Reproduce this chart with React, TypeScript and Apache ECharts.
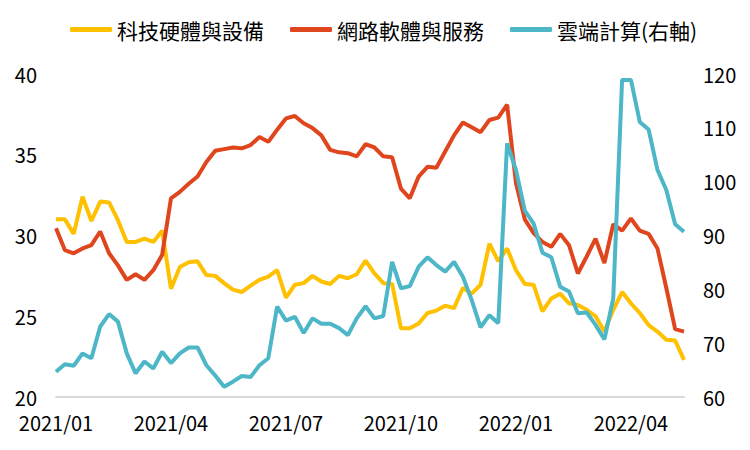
import React, { useEffect, useRef } from "react";
import * as echarts from "echarts";

const weeks: string[] = [
  "2021/01/08", "2021/01/15", "2021/01/22", "2021/01/29", "2021/02/05", "2021/02/12", "2021/02/19", "2021/02/26",
  "2021/03/05", "2021/03/12", "2021/03/19", "2021/03/26", "2021/04/02", "2021/04/09", "2021/04/16", "2021/04/23",
  "2021/04/30", "2021/05/07", "2021/05/14", "2021/05/21", "2021/05/28", "2021/06/04", "2021/06/11", "2021/06/18",
  "2021/06/25", "2021/07/02", "2021/07/09", "2021/07/16", "2021/07/23", "2021/07/30", "2021/08/06", "2021/08/13",
  "2021/08/20", "2021/08/27", "2021/09/03", "2021/09/10", "2021/09/17", "2021/09/24", "2021/10/01", "2021/10/08",
  "2021/10/15", "2021/10/22", "2021/10/29", "2021/11/05", "2021/11/12", "2021/11/19", "2021/11/26", "2021/12/03",
  "2021/12/10", "2021/12/17", "2021/12/24", "2021/12/31", "2022/01/07", "2022/01/14", "2022/01/21", "2022/01/28",
  "2022/02/04", "2022/02/11", "2022/02/18", "2022/02/25", "2022/03/04", "2022/03/11", "2022/03/18", "2022/03/25",
  "2022/04/01", "2022/04/08", "2022/04/15", "2022/04/22", "2022/04/29", "2022/05/06", "2022/05/13", "2022/05/20",
];

const seriesNames: string[] = ["科技硬體與設備", "網路軟體與服務", "雲端計算(右軸)"];

const hardware: number[] = [
  31.0, 31.0, 30.1, 32.4, 30.9, 32.1, 32.05, 30.95, 29.6, 29.6, 29.8, 29.6, 30.3, 26.7, 28.05, 28.35,
  28.4, 27.55, 27.5, 27.05, 26.65, 26.5, 26.9, 27.25, 27.45, 27.85, 26.15, 26.95, 27.05, 27.5, 27.15, 27.0,
  27.5, 27.35, 27.6, 28.45, 27.65, 27.05, 27.0, 24.25, 24.25, 24.55, 25.2, 25.35, 25.65, 25.5, 26.75, 26.4,
  26.95, 29.5, 28.4, 29.2, 27.85, 27.0, 26.95, 25.3, 26.1, 26.4, 25.8, 25.7, 25.4, 25.0, 24.05, 25.4,
  26.5, 25.8, 25.2, 24.45, 24.05, 23.55, 23.5, 22.3,
];

const software: number[] = [
  30.45, 29.1, 28.9, 29.2, 29.4, 30.25, 28.9, 28.15, 27.25, 27.6, 27.25, 27.85, 28.8, 32.3, 32.7, 33.2,
  33.65, 34.55, 35.25, 35.35, 35.45, 35.4, 35.6, 36.1, 35.8, 36.55, 37.25, 37.4, 36.95, 36.65, 36.2, 35.3,
  35.15, 35.1, 34.9, 35.65, 35.45, 34.9, 34.85, 32.9, 32.3, 33.65, 34.25, 34.2, 35.2, 36.2, 37.0, 36.7,
  36.4, 37.15, 37.3, 38.1, 33.25, 31.0, 30.15, 29.6, 29.3, 30.1, 29.4, 27.65, 28.7, 29.8, 28.3, 30.7,
  30.3, 31.05, 30.3, 30.1, 29.2, 26.75, 24.2, 24.05,
];

const cloud: number[] = [
  64.7, 66.1, 65.8, 68.1, 67.2, 73.1, 75.4, 74.0, 68.1, 64.4, 66.6, 65.3, 68.4, 66.3, 68.1, 69.2,
  69.2, 65.9, 64.0, 61.9, 62.85, 63.9, 63.7, 65.9, 67.2, 76.8, 74.2, 74.9, 71.9, 74.6, 73.6, 73.6,
  72.8, 71.5, 74.6, 76.85, 74.6, 75.05, 85.1, 80.2, 80.6, 84.2, 85.95, 84.5, 83.3, 85.1, 82.35, 78.0,
  72.95, 75.2, 73.7, 107.1, 102.2, 94.6, 92.2, 86.8, 85.95, 80.5, 79.6, 75.55, 75.7, 73.4, 70.7, 78.3,
  118.9, 118.9, 111.1, 109.7, 102.2, 98.45, 92.1, 90.7,
];

const colors: string[] = ["#FFC000", "#E0461E", "#4DB6C7"];
const FONT = "'Noto Sans CJK TC', 'Noto Sans', sans-serif";

export default function App() {
  const ref = useRef<HTMLDivElement>(null);

  useEffect(() => {
    if (!ref.current) return;
    const chart = echarts.init(ref.current, null, { renderer: "svg" });
    const values = [hardware, software, cloud];
    chart.setOption({
      animation: false,
      backgroundColor: "#ffffff",
      textStyle: { fontFamily: FONT, color: "#000" },
      legend: {
        left: 65,
        top: 14,
        itemWidth: 42,
        itemHeight: 5,
        itemGap: 26,
        icon: "roundRect",
        textStyle: { fontSize: 21, color: "#000", fontFamily: FONT },
        data: seriesNames,
      },
      grid: { left: 56, right: 66, top: 74, bottom: 53, containLabel: false },
      xAxis: {
        type: "category",
        data: weeks,
        boundaryGap: false,
        axisLine: { show: true, lineStyle: { color: "#D9D9D9", width: 2 } },
        axisTick: { show: false },
        splitLine: { show: false },
        axisLabel: {
          interval: (index: number) => index % 13 === 0,
          formatter: (v: string) => v.slice(0, 7),
          fontSize: 20,
          lineHeight: 18,
          color: "#000",
          margin: 16,
          fontFamily: FONT,
        },
      },
      yAxis: [
        {
          type: "value",
          min: 20,
          max: 40,
          interval: 5,
          axisLine: { show: false },
          axisTick: { show: false },
          splitLine: { show: false },
          axisLabel: { fontSize: 20, lineHeight: 16, color: "#000", margin: 19, fontFamily: FONT },
        },
        {
          type: "value",
          min: 60,
          max: 120,
          interval: 10,
          position: "right",
          axisLine: { show: false },
          axisTick: { show: false },
          splitLine: { show: false },
          axisLabel: { fontSize: 20, lineHeight: 16, color: "#000", margin: 19, fontFamily: FONT },
        },
      ],
      series: seriesNames.map((name, i) => ({
        name,
        type: "line",
        yAxisIndex: i === 2 ? 1 : 0,
        data: values[i],
        symbol: "none",
        color: colors[i],
        lineStyle: { width: 4, color: colors[i] },
      })),
    });
    return () => chart.dispose();
  }, []);

  return <div ref={ref} style={{ width: 750, height: 450, marginLeft: -8, marginTop: -8 }} />;
}
